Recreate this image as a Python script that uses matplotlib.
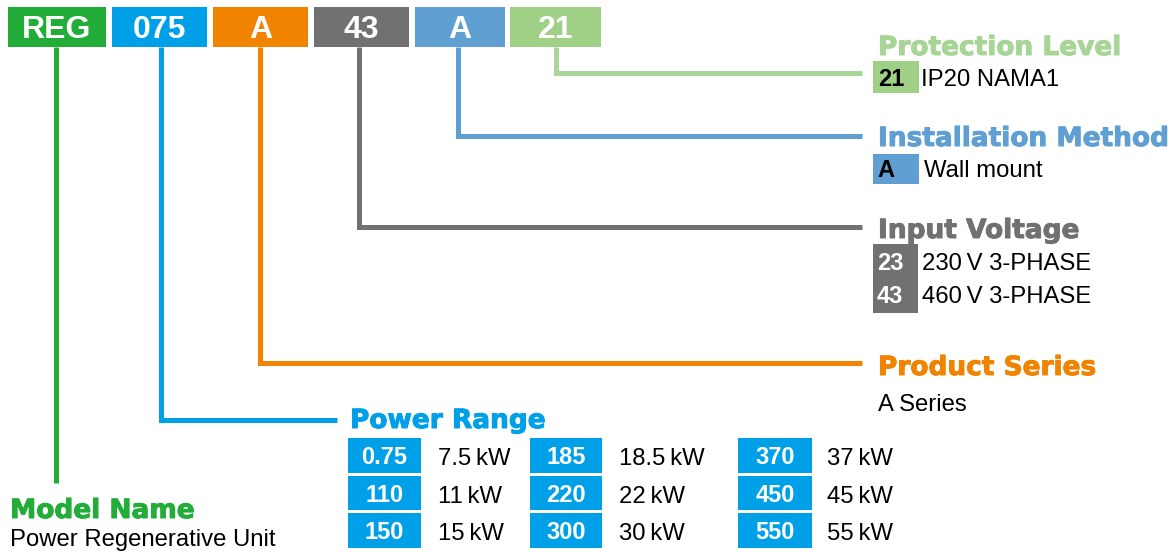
import matplotlib
matplotlib.use("Agg")
import matplotlib.pyplot as plt
from matplotlib.patches import Rectangle
import matplotlib.patheffects as pe

# ---- data ----
codes = ["REG", "075", "A", "43", "A", "21"]
code_colors = ["#22AC38", "#00A0E9", "#F08300", "#727171", "#5F9FD2", "#9FD086"]
line_colors = ["#22AC38", "#00A0E9", "#F08300", "#727171", "#5F9FD2", "#A9D79A"]

headings = ["Protection Level", "Installation Method", "Input Voltage", "Product Series"]
heading_colors = ["#A6D596", "#5F9FD2", "#727171", "#F08300"]

prot_codes = ["21"]
prot_desc = ["IP20 NAMA1"]
inst_codes = ["A"]
inst_desc = ["Wall mount"]
volt_codes = ["23", "43"]
volt_desc = ["230\u2009V 3-PHASE", "460\u2009V 3-PHASE"]
series_desc = ["A Series"]

power_codes = [["0.75", "110", "150"], ["185", "220", "300"], ["370", "450", "550"]]
power_desc = [["7.5\u2009kW", "11\u2009kW", "15\u2009kW"],
              ["18.5\u2009kW", "22\u2009kW", "30\u2009kW"],
              ["37\u2009kW", "45\u2009kW", "55\u2009kW"]]

model_title = "Model Name"
model_desc = "Power Regenerative Unit"
power_title = "Power Range"

# ---- layout ----
W, H = 1175, 552
fig = plt.figure(figsize=(W / 100, H / 100), dpi=100)
ax = fig.add_axes([0, 0, 1, 1])
ax.set_xlim(0, W)
ax.set_ylim(H, 0)
ax.axis("off")

BODY = ["Liberation Sans", "DejaVu Sans"]
HEAD = ["DejaVu Sans"]
lw = 3.6
BODY_FS = 17.2
HEAD_FS = 19
CODE_FS = 17


def heading(x, y, t, c):
    ax.text(x, y, t, color=c, fontsize=HEAD_FS, fontweight="bold", family=HEAD,
            ha="left", va="baseline",
            path_effects=[pe.withStroke(linewidth=0.7, foreground=c)])


# top code boxes
box_x = [(8, 106), (112, 207), (213, 308), (314, 409), (415, 505), (510, 601)]
for (x0, x1), c, t in zip(box_x, code_colors, codes):
    ax.add_patch(Rectangle((x0, 7), x1 - x0, 40, facecolor=c, edgecolor="none"))
    ax.text((x0 + x1) / 2, 37.5, t, color="white", fontsize=23, fontweight="bold",
            family=BODY, ha="center", va="baseline")

# connector lines
line_x = [56, 160.5, 259.5, 358.5, 457.5, 555.5]
line_y = [483, 419.5, 363, 227, 135.5, 72.5]
line_end = [None, 337, 862, 862, 862, 862]
for x, y, xe, c in zip(line_x, line_y, line_end, line_colors):
    if xe is None:
        ax.plot([x, x], [47, y], color=c, lw=lw, solid_capstyle="butt")
    else:
        ax.plot([x, x, xe], [47, y, y], color=c, lw=lw, solid_capstyle="butt",
                solid_joinstyle="miter")

# right-side headings
head_base = [55, 146, 238, 375]
for t, c, yb in zip(headings, heading_colors, head_base):
    heading(878, yb, t, c)


def code_box(x0, y0, x1, y1, color):
    ax.add_patch(Rectangle((x0, y0), x1 - x0, y1 - y0, facecolor=color, edgecolor="none"))


# protection level
code_box(873, 61, 919, 93, code_colors[5])
for c, d in zip(prot_codes, prot_desc):
    ax.text(878, 86, c, color="black", fontsize=CODE_FS, fontweight="bold", family=BODY, va="baseline")
    ax.text(921, 86, d, color="black", fontsize=BODY_FS, family=BODY, va="baseline")

# installation method
code_box(873, 154, 919, 184, code_colors[4])
for c, d in zip(inst_codes, inst_desc):
    ax.text(877, 177, c, color="black", fontsize=CODE_FS, fontweight="bold", family=BODY, va="baseline")
    ax.text(924, 177, d, color="black", fontsize=BODY_FS, family=BODY, va="baseline")

# input voltage
code_box(873, 244, 918, 313, code_colors[3])
for c, d, yb in zip(volt_codes, volt_desc, [270, 303]):
    ax.text(877, yb, c, color="white", fontsize=CODE_FS, fontweight="bold", family=BODY, va="baseline")
    ax.text(922, yb, d, color="black", fontsize=BODY_FS, family=BODY, va="baseline")

# product series
for d in series_desc:
    ax.text(878, 411, d, color="black", fontsize=BODY_FS, family=BODY, va="baseline")

# power range
heading(350, 428, power_title, code_colors[1])
col_box = [(348, 421), (530, 602), (738, 812)]
col_text = [438, 619, 827]
row_box = [(438, 473), (476, 510), (513, 548)]
row_base = [464, 502, 539]
for ci, ((bx0, bx1), tx) in enumerate(zip(col_box, col_text)):
    for ri, ((by0, by1), yb) in enumerate(zip(row_box, row_base)):
        code_box(bx0, by0, bx1, by1, code_colors[1])
        ax.text((bx0 + bx1) / 2, yb, power_codes[ci][ri], color="white", fontsize=CODE_FS,
                fontweight="bold", family=BODY, ha="center", va="baseline")
        ax.text(tx, yb + 1, power_desc[ci][ri], color="black", fontsize=BODY_FS,
                family=BODY, va="baseline")

# model name
heading(10, 518, model_title, code_colors[0])
ax.text(10, 546, model_desc, color="black", fontsize=BODY_FS, family=BODY, va="baseline")

fig.savefig("out.png", dpi=100)
